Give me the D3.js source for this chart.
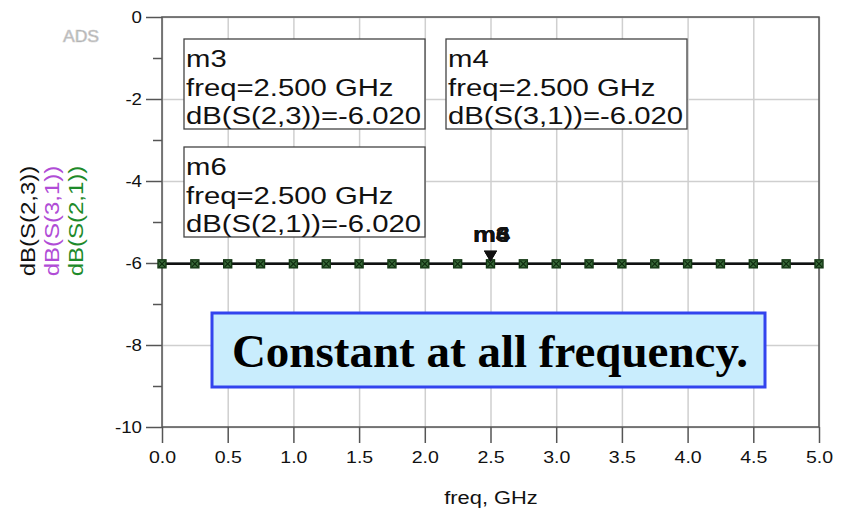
<!DOCTYPE html>
<html>
<head>
<meta charset="utf-8">
<script src="https://cdn.jsdelivr.net/npm/d3@7"></script>
<style>
  html, body { margin: 0; padding: 0; background: #fff; }
  svg { display: block; font-family: "Liberation Sans", Arial, sans-serif; }
</style>
</head>
<body>
<svg id="chart" width="844" height="515"></svg>
<script>
// Sweep frequencies (GHz) and the three transmission traces (dB)
const freqGHz = [0.00, 0.25, 0.50, 0.75, 1.00, 1.25, 1.50, 1.75, 2.00, 2.25, 2.50,
                 2.75, 3.00, 3.25, 3.50, 3.75, 4.00, 4.25, 4.50, 4.75, 5.00];
const dbS23 = [-6.020, -6.020, -6.020, -6.020, -6.020, -6.020, -6.020, -6.020, -6.020, -6.020, -6.020,
               -6.020, -6.020, -6.020, -6.020, -6.020, -6.020, -6.020, -6.020, -6.020, -6.020];
const dbS31 = [-6.020, -6.020, -6.020, -6.020, -6.020, -6.020, -6.020, -6.020, -6.020, -6.020, -6.020,
               -6.020, -6.020, -6.020, -6.020, -6.020, -6.020, -6.020, -6.020, -6.020, -6.020];
const dbS21 = [-6.020, -6.020, -6.020, -6.020, -6.020, -6.020, -6.020, -6.020, -6.020, -6.020, -6.020,
               -6.020, -6.020, -6.020, -6.020, -6.020, -6.020, -6.020, -6.020, -6.020, -6.020];

const traceNames = ["dB(S(2,3))", "dB(S(3,1))", "dB(S(2,1))"];
const traceColors = ["#111111", "#b04cd6", "#1e8a2a"];

const xTickValues = [0.0, 0.5, 1.0, 1.5, 2.0, 2.5, 3.0, 3.5, 4.0, 4.5, 5.0];
const yTickValues = [0, -2, -4, -6, -8, -10];
const yMinorTickValues = [-1, -3, -5, -7, -9];

// Marker readouts
const markerNames = ["m3", "m4", "m6"];
const markerTraces = ["dB(S(2,3))", "dB(S(3,1))", "dB(S(2,1))"];
const markerFreqs = [2.5, 2.5, 2.5];
const markerValues = [-6.020, -6.020, -6.020];

const noteText = "Constant at all frequency.";

const svg = d3.select("#chart");
const plotL = 162, plotR = 819, plotT = 17, plotB = 427;
const x = d3.scaleLinear().domain([0, 5]).range([plotL, plotR]);
const y = d3.scaleLinear().domain([-10, 0]).range([plotB, plotT]);

const SX = 1.2; // horizontal text stretch
const hyphen = f => d => f(d).replace("\u2212", "-");

// grid
svg.append("g")
  .attr("transform", `translate(0,${plotB})`)
  .call(d3.axisBottom(x).tickValues(xTickValues).tickSize(-(plotB - plotT)).tickFormat(""))
  .call(g => g.select(".domain").remove())
  .call(g => g.selectAll("line").attr("stroke", "#cfcfcf").attr("stroke-width", 1.5));
svg.append("g")
  .attr("transform", `translate(${plotL},0)`)
  .call(d3.axisLeft(y).tickValues(yTickValues).tickSize(-(plotR - plotL)).tickFormat(""))
  .call(g => g.select(".domain").remove())
  .call(g => g.selectAll("line").attr("stroke", "#cfcfcf").attr("stroke-width", 1.5));

// frame
svg.append("rect")
  .attr("x", plotL).attr("y", plotT).attr("width", plotR - plotL).attr("height", plotB - plotT)
  .attr("fill", "none").attr("stroke", "#555").attr("stroke-width", 1.5);

// y axis
const yAxis = svg.append("g")
  .attr("transform", `translate(${plotL},0)`)
  .call(d3.axisLeft(y).tickValues(yTickValues).tickSize(16).tickPadding(4).tickFormat(hyphen(d3.format("d"))));
yAxis.select(".domain").remove();
yAxis.selectAll("line").attr("stroke", "#555").attr("stroke-width", 1.5);
yAxis.selectAll("text")
  .attr("font-size", 17).attr("fill", "#111")
  .style("font-family", "'Liberation Sans', Arial, sans-serif")
  .attr("transform", `translate(-20,0) scale(1.1,1) translate(20,0)`);

const yMinor = svg.append("g")
  .attr("transform", `translate(${plotL},0)`)
  .call(d3.axisLeft(y).tickValues(yMinorTickValues).tickSize(9).tickFormat(""));
yMinor.select(".domain").remove();
yMinor.selectAll("line").attr("stroke", "#555").attr("stroke-width", 1.5);

// x axis
const xAxis = svg.append("g")
  .attr("transform", `translate(0,${plotB})`)
  .call(d3.axisBottom(x).tickValues(xTickValues).tickSize(16).tickPadding(8).tickFormat(d3.format(".1f")));
xAxis.select(".domain").remove();
xAxis.selectAll("line").attr("stroke", "#555").attr("stroke-width", 1.5);
xAxis.selectAll("text")
  .attr("font-size", 17).attr("fill", "#111")
  .style("font-family", "'Liberation Sans', Arial, sans-serif")
  .attr("transform", `scale(1.15,1)`);

// stretched text helper
function label(parent, str, px, py, opts = {}) {
  const t = parent.append("text")
    .attr("transform", `translate(${px},${py}) rotate(${opts.rotate || 0}) scale(${opts.sx || SX},1)`)
    .attr("text-anchor", opts.anchor || "start")
    .attr("font-size", opts.size || 24)
    .attr("font-weight", opts.weight || "normal")
    .attr("fill", opts.fill || "#111")
    .text(str);
  return t;
}

label(svg, "freq, GHz", 491, 504, { anchor: "middle", size: 19, sx: 1.15 });

// y axis titles, one per trace
const titleX = [35, 59, 83];
traceNames.forEach((n, i) => {
  label(svg, n, titleX[i], 221, { anchor: "middle", size: 20, rotate: -90, sx: 1.2, fill: traceColors[i] });
});

// ADS logo
label(svg, "ADS", 81, 42, { anchor: "middle", size: 16, fill: "#a9a9a9", sx: 1.1 })
  .attr("stroke", "#cfcfcf").attr("stroke-width", 0.7);

// traces
const traces = [dbS31, dbS21, dbS23];
const traceDrawColors = [traceColors[1], traceColors[2], traceColors[0]];
const line = d3.line().x((d, i) => x(freqGHz[i])).y(d => y(d));
traces.forEach((vals, k) => {
  svg.append("path").datum(vals)
    .attr("d", line)
    .attr("fill", "none")
    .attr("stroke", traceDrawColors[k])
    .attr("stroke-width", k === 2 ? 2.6 : 2.2);
});

// point symbols
const sym = svg.append("g");
dbS21.forEach((v, i) => {
  const cx = x(freqGHz[i]), cy = y(v);
  const g = sym.append("g").attr("transform", `translate(${cx},${cy})`);
  g.append("rect").attr("x", -4).attr("y", -4).attr("width", 8).attr("height", 8)
    .attr("fill", "#3a6a3a").attr("stroke", "#143814").attr("stroke-width", 1.4);
  g.append("path").attr("d", "M-3,-3L3,3M3,-3L-3,3")
    .attr("stroke", "#0d2a0d").attr("stroke-width", 1.2);
});

// marker triangles and names
markerNames.forEach((m, i) => {
  const mx = x(markerFreqs[i]), my = y(markerValues[i]);
  svg.append("path")
    .attr("d", `M${mx - 6.5},${my - 13}L${mx + 6.5},${my - 13}L${mx},${my - 2}Z`)
    .attr("fill", "#111");
  label(svg, m, mx + 1, my - 22, { anchor: "middle", size: 23, weight: "bold", sx: 1.12 });
});

// marker readout boxes
const boxX = [184, 446, 184];
const boxY = [39, 39, 147];
markerNames.forEach((m, i) => {
  const g = svg.append("g");
  g.append("rect").attr("x", boxX[i]).attr("y", boxY[i]).attr("width", 241).attr("height", 90)
    .attr("fill", "#fff").attr("stroke", "#444").attr("stroke-width", 1.3);
  const lines = [m, `freq=${markerFreqs[i].toFixed(3)} GHz`, `${markerTraces[i]}=${markerValues[i].toFixed(3)}`];
  lines.forEach((s, k) => label(g, s, boxX[i] + 2, boxY[i] + 28 + k * 28.5, { size: 24, sx: 1.22 }));
});

// note
const note = svg.append("g");
note.append("rect").attr("x", 212).attr("y", 313).attr("width", 553).attr("height", 74)
  .attr("fill", "#c9edfd").attr("stroke", "#3344ee").attr("stroke-width", 3);
note.append("text")
  .attr("x", 490).attr("y", 367)
  .attr("text-anchor", "middle")
  .style("font-family", "'Liberation Serif', 'Times New Roman', serif")
  .attr("font-weight", "bold")
  .attr("font-size", 47)
  .attr("fill", "#000")
  .text(noteText);
</script>
</body>
</html>
